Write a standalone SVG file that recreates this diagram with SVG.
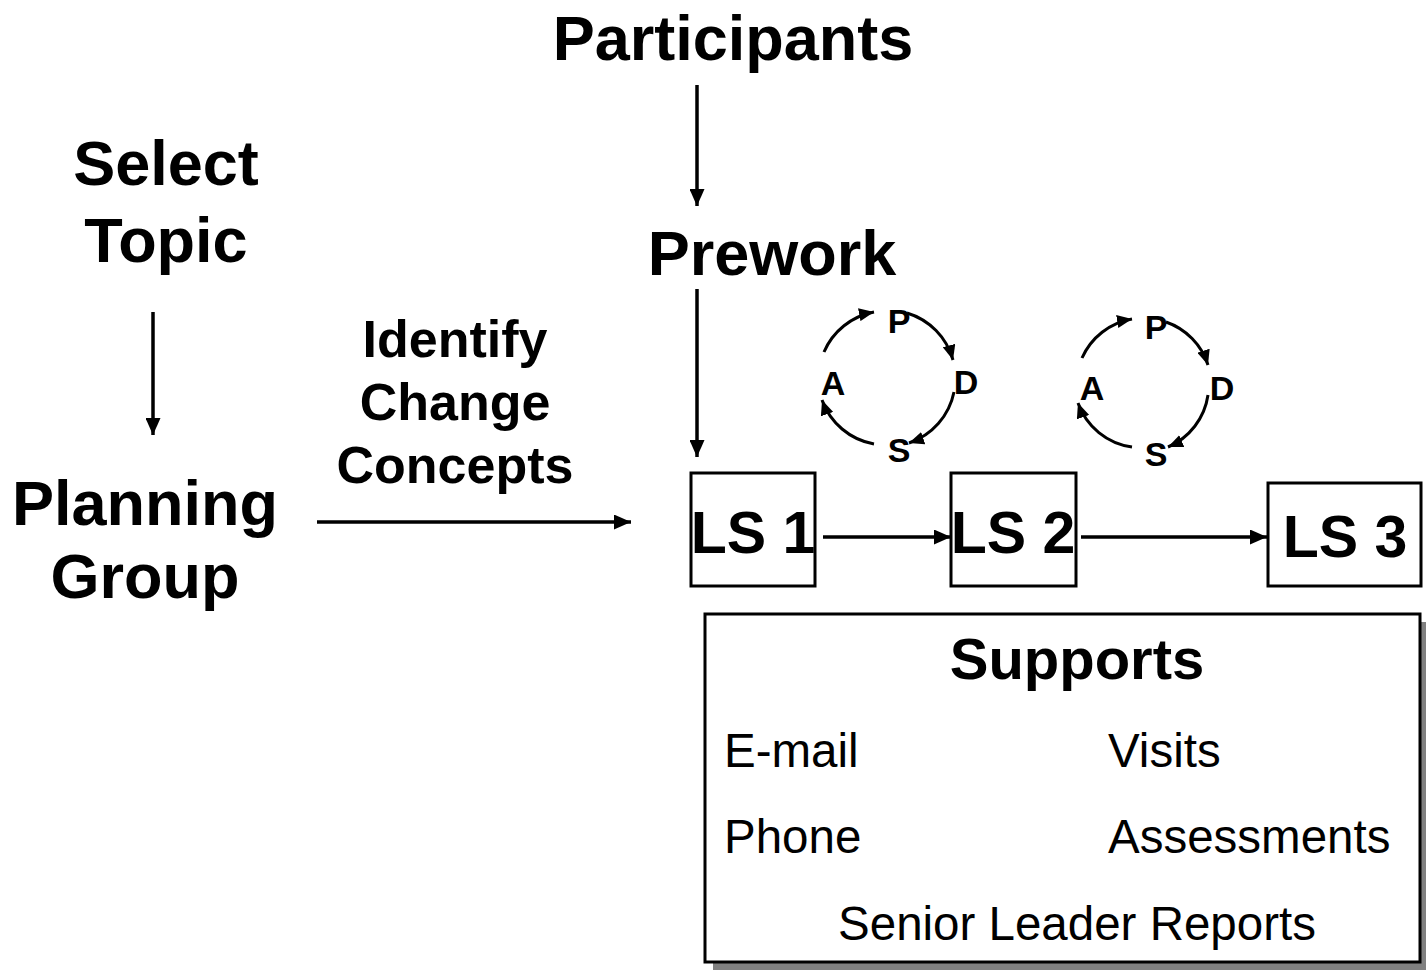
<svg xmlns="http://www.w3.org/2000/svg" width="1426" height="974" viewBox="0 0 1426 974">
<style>
.b{font-family:"Liberation Sans",Arial,sans-serif;font-weight:bold;fill:#000}
.r{font-family:"Liberation Sans",Arial,sans-serif;fill:#000}
.big{font-size:63px}
.mid{font-size:52px}
.ls{font-size:59px}
.pd{font-size:34px}
.it{font-size:47.5px}
.box{fill:#fff;stroke:#000;stroke-width:3}
.ln{stroke:#000;stroke-width:3.5;fill:none}
.arc{stroke:#000;stroke-width:3;fill:none}
</style>
<defs>
<marker id="ah" markerUnits="userSpaceOnUse" markerWidth="18" markerHeight="15" refX="17" refY="7.5" orient="auto">
<path d="M0,0 L17,7.5 L0,15 Z" fill="#000"/>
</marker>
<marker id="sh" markerUnits="userSpaceOnUse" markerWidth="17" markerHeight="13" refX="15" refY="6.5" orient="auto">
<path d="M0,0 L15,6.5 L0,13 Z" fill="#000"/>
</marker>
</defs>
<rect width="1426" height="974" fill="#fff"/>

<g id="participants"><text class="b big" x="733" y="60" text-anchor="middle">Participants</text></g>
<g id="prework"><text class="b big" x="772" y="275" text-anchor="middle">Prework</text></g>
<g id="select-topic"><text class="b big" x="166" y="185" text-anchor="middle">Select</text><text class="b big" x="166" y="262" text-anchor="middle">Topic</text></g>
<g id="planning-group"><text class="b big" x="145" y="525" text-anchor="middle">Planning</text><text class="b big" x="145" y="598" text-anchor="middle">Group</text></g>
<g id="identify-label"><text class="b mid" x="455" y="357" text-anchor="middle">Identify</text><text class="b mid" x="455" y="420" text-anchor="middle">Change</text><text class="b mid" x="455" y="483" text-anchor="middle">Concepts</text></g>

<g id="ls1"><rect class="box" x="691" y="473" width="124" height="113"/><text class="b ls" x="753" y="553" text-anchor="middle">LS 1</text></g>
<g id="ls2"><rect class="box" x="951" y="473" width="125" height="113"/><text class="b ls" x="1013" y="553" text-anchor="middle">LS 2</text></g>
<g id="ls3"><rect class="box" x="1268" y="483" width="153" height="103"/><text class="b ls" x="1345" y="557" text-anchor="middle">LS 3</text></g>

<g id="pdsa1">
<text class="b pd" x="899" y="333" text-anchor="middle">P</text>
<text class="b pd" x="966" y="394" text-anchor="middle">D</text>
<text class="b pd" x="899" y="462" text-anchor="middle">S</text>
<text class="b pd" x="833" y="395" text-anchor="middle">A</text>
<path class="arc" marker-end="url(#sh)" d="M824,352 A68,68 0 0 1 874,312"/>
<path class="arc" marker-end="url(#sh)" d="M907,313 A68,68 0 0 1 953,360"/>
<path class="arc" marker-end="url(#sh)" d="M954,392 A68,68 0 0 1 909,443"/>
<path class="arc" marker-end="url(#sh)" d="M874,444 A68,68 0 0 1 822,400"/>
</g>
<g id="pdsa2">
<text class="b pd" x="1156" y="339" text-anchor="middle">P</text>
<text class="b pd" x="1222" y="400" text-anchor="middle">D</text>
<text class="b pd" x="1156" y="466" text-anchor="middle">S</text>
<text class="b pd" x="1092" y="400" text-anchor="middle">A</text>
<path class="arc" marker-end="url(#sh)" d="M1082,358 A67,67 0 0 1 1132,319"/>
<path class="arc" marker-end="url(#sh)" d="M1166,322 A67,67 0 0 1 1208,365"/>
<path class="arc" marker-end="url(#sh)" d="M1208,395 A67,67 0 0 1 1168,447"/>
<path class="arc" marker-end="url(#sh)" d="M1132,447 A67,67 0 0 1 1078,403"/>
</g>

<g id="supports">
<rect x="713" y="622" width="715" height="348" fill="#808080"/>
<rect class="box" x="705" y="614" width="715" height="348"/>
<text class="b" x="1077" y="679" text-anchor="middle" style="font-size:58px">Supports</text>
<text class="r it" x="724" y="767">E-mail</text>
<text class="r it" x="1108" y="767">Visits</text>
<text class="r it" x="724" y="853">Phone</text>
<text class="r it" x="1108" y="853">Assessments</text>
<text class="r it" x="1077" y="940" text-anchor="middle">Senior Leader Reports</text>
</g>

<g id="connectors">
<line class="ln" x1="697" y1="85" x2="697" y2="206" marker-end="url(#ah)"/>
<line class="ln" x1="697" y1="289" x2="697" y2="457" marker-end="url(#ah)"/>
<line class="ln" x1="153" y1="312" x2="153" y2="435" marker-end="url(#ah)"/>
<line class="ln" x1="317" y1="522" x2="631" y2="522" marker-end="url(#ah)"/>
<line class="ln" x1="823" y1="537" x2="951" y2="537" marker-end="url(#ah)"/>
<line class="ln" x1="1081" y1="537" x2="1267" y2="537" marker-end="url(#ah)"/>
</g>
</svg>
